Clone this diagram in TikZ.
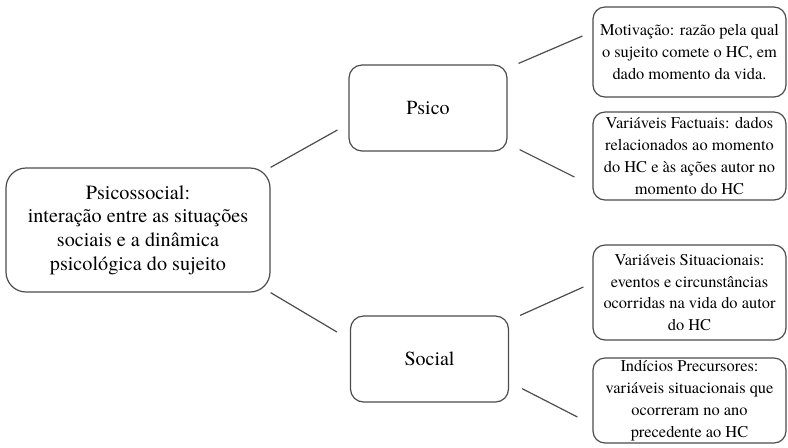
\documentclass[tikz,border=0pt]{standalone}
\usepackage{fontspec}
\setmainfont{texgyretermes}[Extension=.otf, UprightFont=*-regular, BoldFont=*-bold, ItalicFont=*-italic]
\usetikzlibrary{calc}

\tikzset{
    bigbox/.style={draw=black!70, line width=0.6pt, rounded corners=10pt, align=center, inner sep=0pt, minimum width=132pt, minimum height=62pt, font=\fontsize{10.1}{11.8}\selectfont},
    midbox/.style={draw=black!70, line width=0.6pt, rounded corners=6.5pt, align=center, inner sep=0pt, minimum width=79pt, minimum height=43pt, font=\fontsize{10}{12}\selectfont},
    leafbox/.style={draw=black!70, line width=0.6pt, rounded corners=6pt, align=center, inner sep=0pt, minimum width=96.5pt, font=\fontsize{8.2}{10.9}\selectfont},
    link/.style={draw=black!70, line width=0.6pt}
}

\begin{document}
\begin{tikzpicture}[x=0.5pt, y=-0.5pt]
    \useasboundingbox (0,0) rectangle (788,447);

    \node[bigbox] (psicossocial) at (138,230) {Psicossocial:\\interação entre as situações\\sociais e a dinâmica\\psicológica do sujeito};

    \node[midbox] (psico) at (428,108) {Psico};

    \node[midbox] (social) at (429.5,359) {Social};

    \node[leafbox, minimum height=45pt] (motivacao) at (689.5,52) {Motivação: razão pela qual\\o sujeito comete o HC, em\\dado momento da vida.};

    \node[leafbox, minimum height=44pt] (factuais) at (689.5,156) {Variáveis Factuais: dados\\relacionados ao momento\\do HC e às ações autor no\\momento do HC};

    \node[leafbox, minimum height=47.5pt] (situacionais) at (689.5,292.5) {Variáveis Situacionais:\\eventos e circunstâncias\\ocorridas na vida do autor\\do HC};

    \node[leafbox, minimum height=42.5pt] (precursores) at (689.5,400.5) {Indícios Precursores:\\variáveis situacionais que\\ocorreram no ano\\precedente ao HC};

    \draw[link] (psicossocial.north east) to ($(psico.west)+(-11,22)$);

    \draw[link] (psicossocial.south east) to ($(social.west)+(-13,-27)$);

    \draw[link] ($(psico.north east)+(11,-1)$) to ($(motivacao.west)+(-10,-16)$);

    \draw[link] ($(psico.south east)+(12,-2)$) to ($(factuais.west)+(-18,21)$);

    \draw[link] ($(social.north east)+(11,0)$) to ($(situacionais.west)+(-9,-5.5)$);

    \draw[link] ($(social.south east)+(13,-14)$) to ($(precursores.west)+(-15,16.5)$);
\end{tikzpicture}
\end{document}
